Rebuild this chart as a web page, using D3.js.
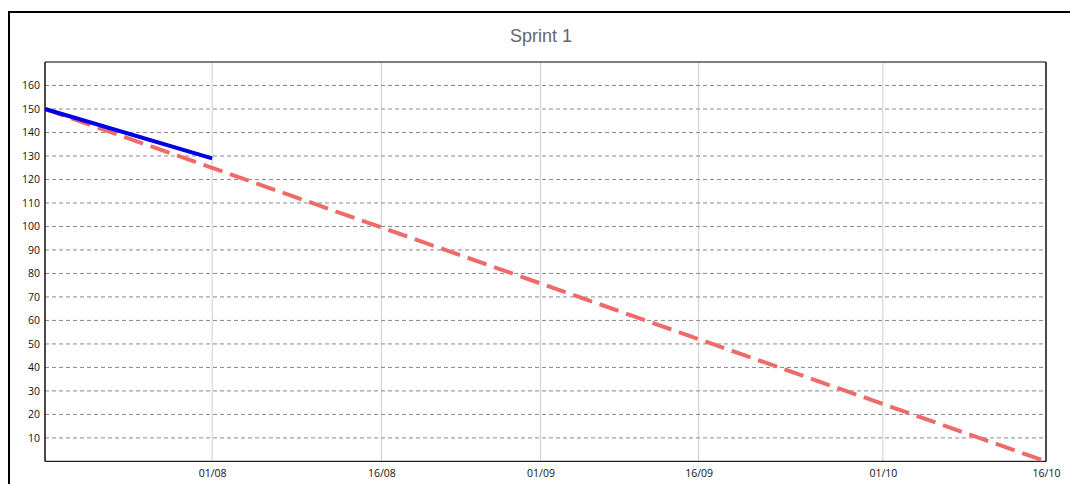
<!DOCTYPE html>
<html>
<head>
<meta charset="utf-8">
<script src="https://cdn.jsdelivr.net/npm/d3@7"></script>
<style>
  html, body { margin: 0; padding: 0; background: #fff; }
  svg { display: block; }
</style>
</head>
<body>
<svg id="chart" width="1070" height="484"></svg>
<script>
// ---- data ----
const title = "Sprint 1";
const xTickLabels = ["01/08", "16/08", "01/09", "16/09", "01/10", "16/10"];
const xTickPositions = [16.7, 33.6, 49.5, 65.3, 83.7, 100]; // position along the sprint axis (0..100)
const yTicks = [10, 20, 30, 40, 50, 60, 70, 80, 90, 100, 110, 120, 130, 140, 150, 160];
const actualX = [0, 16.7];
const actualY = [150, 129];
const idealX = [0, 100];
const idealY = [150, 0];

// ---- layout ----
const svg = d3.select("#chart");
const pLeft = 45, pRight = 1046, pTop = 62, pBottom = 461.4;

const x = d3.scaleLinear().domain([0, 100]).range([pLeft, pRight]);
const y = d3.scaleLinear().domain([0, 170]).range([pBottom, pTop]);

// outer frame
svg.append("rect")
  .attr("x", 9).attr("y", 12).attr("width", 1100).attr("height", 520)
  .attr("fill", "none").attr("stroke", "#000").attr("stroke-width", 2);

// title
svg.append("text")
  .attr("x", 541).attr("y", 42)
  .attr("text-anchor", "middle")
  .attr("font-family", "'Liberation Sans', Arial, sans-serif")
  .attr("font-size", 18)
  .attr("fill", "#666")
  .text(title);

// vertical grid
svg.append("g").selectAll("line").data(xTickPositions.slice(0, -1)).join("line")
  .attr("x1", d => x(d)).attr("x2", d => x(d))
  .attr("y1", pTop).attr("y2", pBottom)
  .attr("stroke", "#cfcfcf").attr("stroke-width", 1);

// horizontal grid
svg.append("g").selectAll("line").data(yTicks).join("line")
  .attr("x1", pLeft).attr("x2", pRight)
  .attr("y1", d => y(d)).attr("y2", d => y(d))
  .attr("stroke", "#8a8a8a").attr("stroke-width", 1)
  .attr("stroke-dasharray", "4,3");

// y axis labels
const yAxis = d3.axisLeft(y).tickValues(yTicks).tickSize(0).tickPadding(5);
const gy = svg.append("g").attr("transform", `translate(${pLeft},0)`).call(yAxis);
gy.select(".domain").remove();
gy.selectAll("text")
  .attr("font-family", "'Open Sans', sans-serif")
  .attr("font-size", 10.5).attr("fill", "#111");

// x axis labels
const xAxis = d3.axisBottom(x).tickValues(xTickPositions)
  .tickFormat((d, i) => xTickLabels[i]).tickSize(0).tickPadding(8);
const gx = svg.append("g").attr("transform", `translate(0,${pBottom})`).call(xAxis);
gx.select(".domain").remove();
gx.selectAll("text")
  .attr("font-family", "'Open Sans', sans-serif")
  .attr("font-size", 10.5).attr("fill", "#111");

// plot border
svg.append("line").attr("x1", pLeft).attr("x2", pRight).attr("y1", pTop).attr("y2", pTop)
  .attr("stroke", "#555").attr("stroke-width", 1.3);
svg.append("line").attr("x1", pLeft).attr("x2", pRight).attr("y1", pBottom).attr("y2", pBottom)
  .attr("stroke", "#222").attr("stroke-width", 1.3);
svg.append("line").attr("x1", pLeft).attr("x2", pLeft).attr("y1", pTop).attr("y2", pBottom)
  .attr("stroke", "#111").attr("stroke-width", 1.5);
svg.append("line").attr("x1", pRight).attr("x2", pRight).attr("y1", pTop).attr("y2", pBottom)
  .attr("stroke", "#111").attr("stroke-width", 1.5);

const line = d3.line().x(d => x(d[0])).y(d => y(d[1]));

// ideal line
svg.append("path")
  .datum(d3.zip(idealX, idealY))
  .attr("d", line)
  .attr("fill", "none")
  .attr("stroke", "#ef6b6b")
  .attr("stroke-width", 4)
  .attr("stroke-dasharray", "20,8");

// actual line
svg.append("path")
  .datum(d3.zip(actualX, actualY))
  .attr("d", line)
  .attr("fill", "none")
  .attr("stroke", "#0000e6")
  .attr("stroke-width", 4);
</script>
</body>
</html>
